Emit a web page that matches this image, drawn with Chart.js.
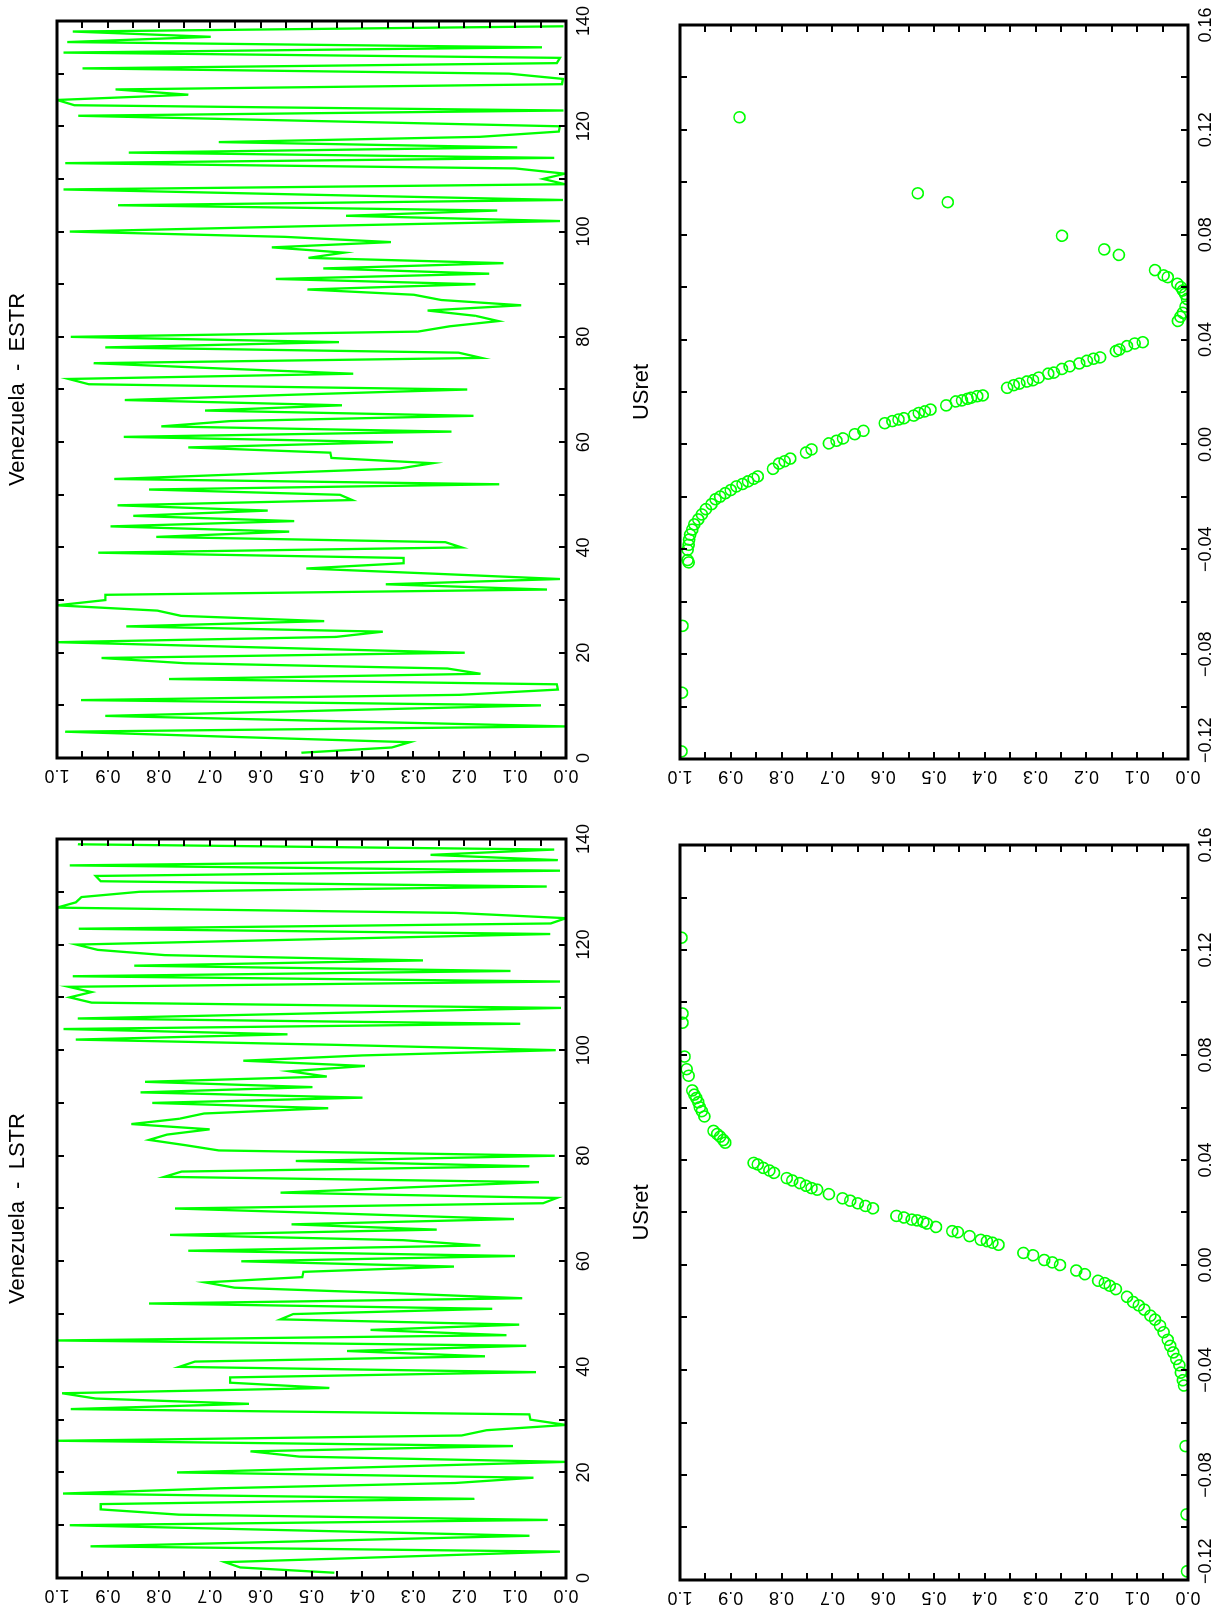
<!DOCTYPE html>
<html>
<head>
<meta charset="utf-8">
<script src="https://cdn.jsdelivr.net/npm/chart.js@4.4.0/dist/chart.umd.min.js"></script>
<style>
html, body { margin: 0; padding: 0; background: #fff; }
body { width: 1223px; height: 1618px; overflow: hidden; position: relative; }
/* the plot page is landscape, turned a quarter turn to the left */
#page {
    position: absolute; left: 0; top: 0;
    width: 1618px; height: 1223px;
    transform-origin: 0 0;
    transform: translateY(1618px) rotate(-90deg);
    background: #fff;
}
#page canvas { position: absolute; }
</style>
</head>
<body>
<div id="page">
    <canvas id="lstr-line" width="809" height="611" style="left:0px; top:0px;"></canvas>
    <canvas id="estr-line" width="809" height="611" style="left:809px; top:0px;"></canvas>
    <canvas id="lstr-scatter" width="809" height="612" style="left:0px; top:611px;"></canvas>
    <canvas id="estr-scatter" width="809" height="612" style="left:809px; top:611px;"></canvas>
</div>
<script>
// transition function values, periods 1..139
var lstrValues = [
    0.455, 0.64, 0.67, 0.34, 0.012, 0.934, 0.50, 0.072, 0.52, 0.975,
    0.036, 0.76, 0.914, 0.914, 0.18, 0.988, 0.68, 0.217, 0.064, 0.764,
    0.38, 0.0, 0.524, 0.62, 0.104, 0.998, 0.205, 0.156, 0.0, 0.07,
    0.072, 0.973, 0.623, 0.924, 0.99, 0.465, 0.66, 0.66, 0.059, 0.76,
    0.729, 0.159, 0.43, 0.078, 1.0, 0.117, 0.384, 0.092, 0.561, 0.536,
    0.145, 0.819, 0.086, 0.35, 0.651, 0.709, 0.518, 0.516, 0.22, 0.638,
    0.10, 0.742, 0.168, 0.32, 0.778, 0.254, 0.539, 0.102, 0.43, 0.768,
    0.045, 0.018, 0.561, 0.31, 0.053, 0.789, 0.755, 0.072, 0.531, 0.022,
    0.682, 0.748, 0.819, 0.784, 0.70, 0.854, 0.76, 0.711, 0.467, 0.813,
    0.40, 0.836, 0.498, 0.827, 0.47, 0.543, 0.395, 0.634, 0.40, 0.02,
    0.45, 0.963, 0.547, 0.987, 0.09, 0.959, 0.48, 0.01, 0.932, 0.975,
    0.932, 0.977, 0.012, 0.969, 0.109, 0.848, 0.281, 0.788, 0.92, 0.962,
    0.50, 0.031, 0.957, 0.03, 0.0, 0.217, 1.0, 0.963, 0.952, 0.838,
    0.038, 0.914, 0.924, 0.012, 0.975, 0.016, 0.266, 0.023, 0.959
];

var estrValues = [
    0.52, 0.342, 0.307, 0.65, 0.984, 0.0, 0.45, 0.905, 0.475, 0.049,
    0.953, 0.209, 0.016, 0.018, 0.78, 0.168, 0.233, 0.748, 0.9125, 0.199,
    0.60, 1.0, 0.452, 0.36, 0.864, 0.475, 0.756, 0.803, 1.0, 0.905,
    0.905, 0.0375, 0.354, 0.012, 0.256, 0.51, 0.319, 0.319, 0.919, 0.205,
    0.237, 0.805, 0.544, 0.895, 0.534, 0.85, 0.586, 0.881, 0.42, 0.444,
    0.819, 0.131, 0.8875, 0.61, 0.327, 0.262, 0.461, 0.463, 0.742, 0.34,
    0.869, 0.225, 0.795, 0.66, 0.182, 0.709, 0.44, 0.867, 0.54, 0.194,
    0.9375, 0.977, 0.418, 0.68, 0.928, 0.166, 0.211, 0.905, 0.446, 0.973,
    0.291, 0.229, 0.133, 0.178, 0.272, 0.088, 0.245, 0.299, 0.508, 0.178,
    0.57, 0.151, 0.477, 0.123, 0.506, 0.436, 0.578, 0.344, 0.553, 0.975,
    0.52, 0.012, 0.432, 0.135, 0.88, 0.006, 0.50, 0.987, 0.002, 0.045,
    0.002, 0.10, 0.984, 0.023, 0.859, 0.096, 0.682, 0.169, 0.014, 0.012,
    0.49, 0.958, 0.005, 0.966, 1.0, 0.742, 0.885, 0.008, 0.006, 0.112,
    0.95, 0.018, 0.012, 0.987, 0.047, 0.98, 0.698, 0.969, 0.005
];

// scatter against USret (LSTR)
var lstrUsret = [
    0.1247, 0.0958, 0.0923, 0.0794, 0.0746, 0.0721, 0.0665, 0.0649, 0.0636, 0.062,
    0.0601, 0.0586, 0.0566, 0.0511, 0.0499, 0.0489, 0.0476, 0.0466, 0.0389, 0.0383,
    0.037, 0.036, 0.0351, 0.0331, 0.0322, 0.0312, 0.0302, 0.0293, 0.0287, 0.027,
    0.0254, 0.0245, 0.0235, 0.0225, 0.0216, 0.0187, 0.0181, 0.0173, 0.017, 0.0164,
    0.0158, 0.0145, 0.0129, 0.0125, 0.011, 0.0096, 0.0091, 0.0085, 0.0077, 0.0046,
    0.0037, 0.0019, 0.001, 0.0, -0.0021, -0.0035, -0.006, -0.0069, -0.0079, -0.0092,
    -0.0121, -0.0141, -0.0154, -0.017, -0.0193, -0.0208, -0.0231, -0.0256, -0.0285, -0.0308,
    -0.0333, -0.0358, -0.0382, -0.041, -0.0439, -0.0459, -0.069, -0.095, -0.1167
];
var lstrFitted = [
    0.997, 0.995, 0.995, 0.991, 0.987, 0.983, 0.976, 0.972, 0.968, 0.964,
    0.961, 0.957, 0.952, 0.934, 0.927, 0.921, 0.915, 0.911, 0.855, 0.847,
    0.836, 0.824, 0.815, 0.79, 0.779, 0.764, 0.752, 0.741, 0.73, 0.707,
    0.68, 0.665, 0.65, 0.635, 0.62, 0.574, 0.559, 0.544, 0.533, 0.521,
    0.514, 0.496, 0.464, 0.453, 0.43, 0.408, 0.396, 0.385, 0.373, 0.324,
    0.305, 0.283, 0.267, 0.252, 0.22, 0.203, 0.177, 0.164, 0.154, 0.142,
    0.12, 0.108, 0.097, 0.086, 0.074, 0.065, 0.055, 0.048, 0.04, 0.035,
    0.029, 0.023, 0.017, 0.014, 0.01, 0.008, 0.005, 0.003, 0.002
];

// scatter against USret (ESTR)
var estrUsret = [
    0.1248, 0.0958, 0.0924, 0.0796, 0.0744, 0.0723, 0.0665, 0.0645, 0.0638, 0.0613,
    0.06, 0.0587, 0.0574, 0.0555, 0.0526, 0.0502, 0.0487, 0.0471, 0.039, 0.0385,
    0.0375, 0.0362, 0.0356, 0.0332, 0.0327, 0.0319, 0.0309, 0.0298, 0.0288, 0.0274,
    0.027, 0.0255, 0.0245, 0.024, 0.0232, 0.0226, 0.0216, 0.0187, 0.0184, 0.0178,
    0.0174, 0.0168, 0.0164, 0.0149, 0.0133, 0.0126, 0.012, 0.011, 0.01, 0.0095,
    0.0089, 0.0081, 0.0052, 0.0039, 0.0023, 0.0014, 0.0004, -0.0019, -0.0031, -0.0054,
    -0.0064, -0.0073, -0.0093, -0.0122, -0.0131, -0.0141, -0.0151, -0.016, -0.0174, -0.0186,
    -0.0199, -0.0209, -0.0228, -0.0247, -0.0267, -0.0286, -0.0305, -0.0325, -0.0344, -0.0363,
    -0.0383, -0.0402, -0.0441, -0.045, -0.0692, -0.0947, -0.1171
];
var estrFitted = [
    0.883, 0.532, 0.473, 0.248, 0.165, 0.136, 0.065, 0.048, 0.04, 0.021,
    0.014, 0.01, 0.006, 0.002, 0.005, 0.01, 0.015, 0.02, 0.089, 0.105,
    0.12, 0.135, 0.142, 0.173, 0.186, 0.199, 0.214, 0.233, 0.248, 0.264,
    0.275, 0.294, 0.305, 0.317, 0.332, 0.343, 0.356, 0.404, 0.415, 0.427,
    0.434, 0.445, 0.457, 0.476, 0.507, 0.518, 0.53, 0.54, 0.559, 0.57,
    0.582, 0.597, 0.639, 0.656, 0.679, 0.692, 0.707, 0.741, 0.752, 0.783,
    0.794, 0.805, 0.817, 0.847, 0.855, 0.866, 0.877, 0.889, 0.9, 0.911,
    0.921, 0.93, 0.938, 0.949, 0.957, 0.964, 0.972, 0.976, 0.98, 0.982,
    0.983, 0.985, 0.985, 0.983, 0.995, 0.996, 0.997
];

// axis ticks and labels
var timeTicks = [0, 20, 40, 60, 80, 100, 120, 140];
var timeLabels = ["0", "20", "40", "60", "80", "100", "120", "140"];
var valueTicks = [0, 0.1, 0.2, 0.3, 0.4, 0.5, 0.6, 0.7, 0.8, 0.9, 1.0];
var valueLabels = ["0.0", "0.1", "0.2", "0.3", "0.4", "0.5", "0.6", "0.7", "0.8", "0.9", "1.0"];
var usretTicks = [-0.12, -0.08, -0.04, 0.0, 0.04, 0.08, 0.12, 0.16];
var usretLabels = ["\u22120.12", "\u22120.08", "\u22120.04", "0.00", "0.04", "0.08", "0.12", "0.16"];

var green = "rgb(0, 255, 0)";
var labelFont = '18px "Liberation Sans", Arial, sans-serif';
var titleFont = '22px "Liberation Sans", Arial, sans-serif';

// box, inward ticks on all four sides, tick labels and title
var framePlugin = {
    id: "frame",
    afterDraw: function(chart, args, o) {
        var ctx = chart.ctx;
        var a = chart.chartArea;
        var sx = chart.scales.x;
        var sy = chart.scales.y;
        var tl = 7;

        ctx.save();
        ctx.strokeStyle = "#000";
        ctx.fillStyle = "#000";
        ctx.lineWidth = 2;
        ctx.beginPath();
        var nx = Math.round((o.xMax - o.xMin) / o.xStep);
        for (let i = 0; i <= nx; ++i) {
            let px = Math.round(sx.getPixelForValue(o.xMin + i * o.xStep));
            ctx.moveTo(px, a.bottom); ctx.lineTo(px, a.bottom - tl);
            ctx.moveTo(px, a.top); ctx.lineTo(px, a.top + tl);
        }
        var ny = Math.round(1 / 0.05);
        for (let i = 0; i <= ny; ++i) {
            let py = Math.round(sy.getPixelForValue(i * 0.05));
            ctx.moveTo(a.left, py); ctx.lineTo(a.left + tl, py);
            ctx.moveTo(a.right, py); ctx.lineTo(a.right - tl, py);
        }
        ctx.stroke();

        ctx.lineWidth = 3;
        ctx.strokeRect(a.left, a.top, a.right - a.left, a.bottom - a.top);

        ctx.font = labelFont;
        ctx.textBaseline = "middle";
        o.xTicks.forEach(function(v, i) {
            let px = sx.getPixelForValue(v);
            let w = ctx.measureText(o.xLabels[i]).width;
            // a long first label is pushed inside so it starts at the frame
            if (px - w / 2 < a.left - 12) {
                ctx.textAlign = "left";
                px = a.left - 4;
            } else {
                ctx.textAlign = "center";
            }
            ctx.fillText(o.xLabels[i], px, a.bottom + 18);
        });
        ctx.textAlign = "center";
        valueTicks.forEach(function(v, i) {
            ctx.save();
            ctx.translate(a.left - 17, sy.getPixelForValue(v));
            ctx.rotate(-Math.PI / 2);
            ctx.fillText(valueLabels[i], 0, 0);
            ctx.restore();
        });

        ctx.font = titleFont;
        ctx.fillText(o.title, (a.left + a.right) / 2, o.titleY);
        ctx.restore();
    }
};

function hiddenScales(xMin, xMax) {
    return {
        x: { type: "linear", display: false, min: xMin, max: xMax },
        y: { type: "linear", display: false, min: 0, max: 1 }
    };
}

function createLineChart(id, values, title, padding) {
    var points = values.map(function(v, i) { return { x: i + 1, y: v }; });
    return new Chart(document.getElementById(id), {
        type: "line",
        data: {
            datasets: [{
                data: points,
                borderColor: green,
                borderWidth: 2.3,
                pointRadius: 0,
                tension: 0,
                fill: false
            }]
        },
        options: {
            responsive: false,
            animation: false,
            layout: { padding: padding },
            scales: hiddenScales(0, 140),
            plugins: {
                legend: { display: false },
                tooltip: { enabled: false },
                frame: {
                    xMin: 0, xMax: 140, xStep: 10,
                    xTicks: timeTicks, xLabels: timeLabels,
                    title: title, titleY: 18
                }
            }
        },
        plugins: [framePlugin]
    });
}

function createScatterChart(id, usret, fitted, padding) {
    var points = usret.map(function(u, i) { return { x: u, y: fitted[i] }; });
    return new Chart(document.getElementById(id), {
        type: "scatter",
        data: {
            datasets: [{
                data: points,
                borderColor: green,
                backgroundColor: "rgba(0,0,0,0)",
                borderWidth: 1.6,
                pointRadius: 5.5,
                pointStyle: "circle"
            }]
        },
        options: {
            responsive: false,
            animation: false,
            layout: { padding: padding },
            scales: hiddenScales(-0.12, 0.16),
            plugins: {
                legend: { display: false },
                tooltip: { enabled: false },
                frame: {
                    xMin: -0.12, xMax: 0.16, xStep: 0.02,
                    xTicks: usretTicks, xLabels: usretLabels,
                    title: "USret", titleY: 31
                }
            }
        },
        plugins: [framePlugin]
    });
}

createLineChart("lstr-line", lstrValues, "Venezuela  -  LSTR", { left: 40, right: 30, top: 57, bottom: 45 });
createLineChart("estr-line", estrValues, "Venezuela  -  ESTR", { left: 51, right: 21, top: 57, bottom: 45 });
createScatterChart("lstr-scatter", lstrUsret, lstrFitted, { left: 38, right: 36, top: 69, bottom: 35 });
createScatterChart("estr-scatter", estrUsret, estrFitted, { left: 50, right: 25, top: 69, bottom: 35 });
</script>
</body>
</html>
